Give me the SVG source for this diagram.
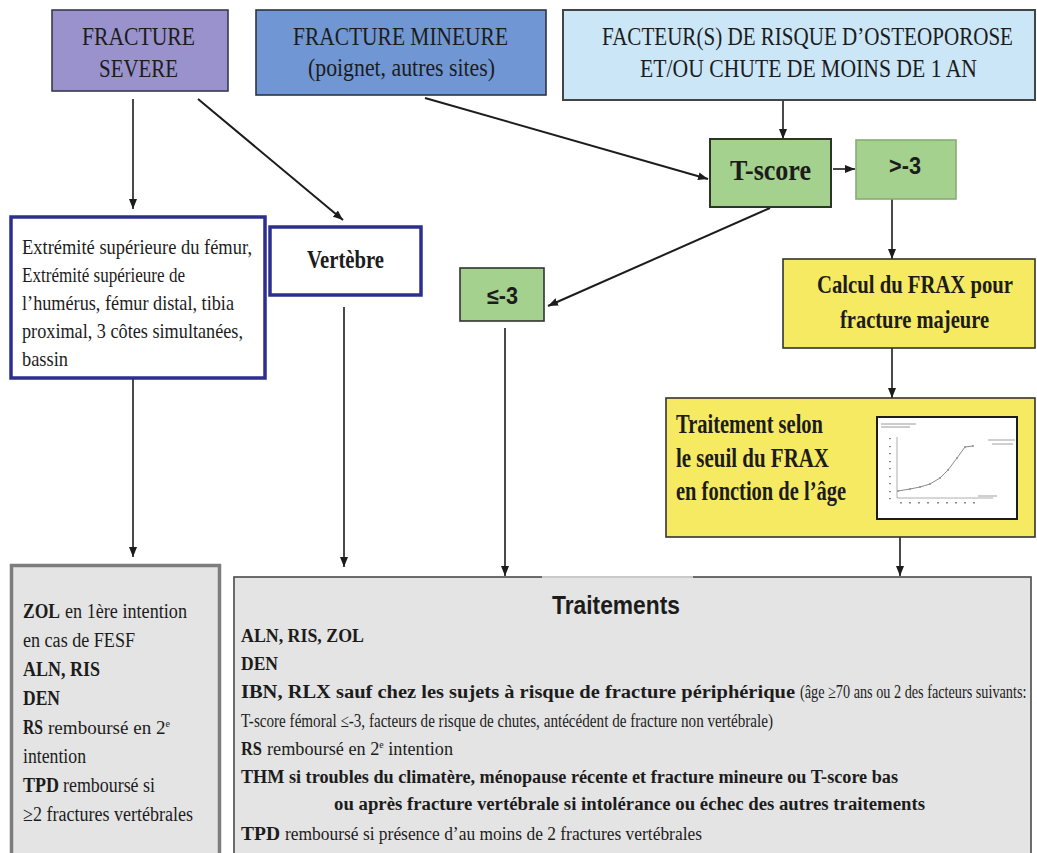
<svg xmlns="http://www.w3.org/2000/svg" width="1037" height="853" viewBox="0 0 1037 853">
<style>
.s{font-family:"Liberation Serif","Times New Roman",serif;fill:#1c1c1c}
.b{font-weight:bold}
.sans{font-family:"Liberation Sans",Arial,sans-serif;font-weight:bold;fill:#1c1c1c}
.ln{stroke:#1c1c1c;stroke-width:1.6;fill:none}
.dg{stroke:#1c1c1c;stroke-width:2;fill:none}
.bluebox{fill:#ffffff;stroke:#2c2f8e;stroke-width:3.5}
.green{fill:#a4d18d}
.yellow{fill:#f6ea62;stroke:#333;stroke-width:1.6}
.gray{fill:#e4e4e4}
</style>
<defs>
<marker id="ah" markerUnits="userSpaceOnUse" markerWidth="10" markerHeight="8" refX="10" refY="4" orient="auto">
<path d="M0,0 L10,4 L0,8 z" fill="#1c1c1c"/>
</marker>
</defs>
<rect width="1037" height="853" fill="#ffffff"/>

<g id="connectors">
<path class="ln" d="M133,99 L133,209" marker-end="url(#ah)"/>
<path class="dg" d="M198,99 L343,220" marker-end="url(#ah)"/>
<path class="dg" d="M425,98 L708,179" marker-end="url(#ah)"/>
<path class="ln" d="M783,100 L783,139" marker-end="url(#ah)"/>
<path class="ln" d="M833,169 L855,169" marker-end="url(#ah)"/>
<path class="dg" d="M770,208 L548,306" marker-end="url(#ah)"/>
<path class="ln" d="M892,199 L892,259" marker-end="url(#ah)"/>
<path class="ln" d="M892,348 L892,398" marker-end="url(#ah)"/>
<path class="ln" d="M900,537 L900,576" marker-end="url(#ah)"/>
<path class="ln" d="M133,379 L133,557" marker-end="url(#ah)"/>
<path class="ln" d="M344,307 L344,567" marker-end="url(#ah)"/>
<path class="ln" d="M505,328 L505,576" marker-end="url(#ah)"/>
</g>

<g id="fracture-severe">
<rect x="52" y="10" width="176" height="81" fill="#9a92cd" stroke="#3a3a4a" stroke-width="1.6"/>
<text class="s" x="82" y="45" font-size="25" textLength="113" lengthAdjust="spacingAndGlyphs">FRACTURE</text>
<text class="s" x="99" y="77" font-size="25" textLength="79" lengthAdjust="spacingAndGlyphs">SEVERE</text>
</g>

<g id="fracture-mineure">
<rect x="256" y="10" width="290" height="85" fill="#7096d4" stroke="#2e3440" stroke-width="1.6"/>
<text class="s" x="293" y="45" font-size="25" textLength="215" lengthAdjust="spacingAndGlyphs">FRACTURE MINEURE</text>
<text class="s" x="308" y="76" font-size="25" textLength="187" lengthAdjust="spacingAndGlyphs">(poignet, autres sites)</text>
</g>

<g id="facteurs">
<rect x="563" y="10" width="472" height="90" fill="#cbe6f7" stroke="#444" stroke-width="2"/>
<text class="s" font-size="25" transform="translate(602,45) scale(0.843,1)">FACTEUR(S) DE RISQUE D’OSTEOPOROSE</text>
<text class="s" x="640" y="77" font-size="25" textLength="337" lengthAdjust="spacingAndGlyphs">ET/OU CHUTE DE MOINS DE 1 AN</text>
</g>

<g id="tscore">
<rect class="green" x="710" y="139" width="121" height="68" stroke="#2b3628" stroke-width="2"/>
<text class="s b" x="730" y="180" font-size="30" textLength="81" lengthAdjust="spacingAndGlyphs">T-score</text>
</g>

<g id="sup-3">
<rect class="green" x="856" y="140" width="100" height="59" stroke="#86ad74" stroke-width="1.6"/>
<text class="sans" x="889" y="174" font-size="23" textLength="32" lengthAdjust="spacingAndGlyphs">&gt;-3</text>
</g>

<g id="extremite">
<rect class="bluebox" x="11" y="217" width="254" height="161"/>
<text class="s" x="22" y="254" font-size="21" textLength="230" lengthAdjust="spacingAndGlyphs">Extrémité supérieure du fémur,</text>
<text class="s" x="22" y="282" font-size="21" textLength="163" lengthAdjust="spacingAndGlyphs">Extrémité supérieure de</text>
<text class="s" x="22" y="310" font-size="21" textLength="212" lengthAdjust="spacingAndGlyphs">l’humérus, fémur distal, tibia</text>
<text class="s" x="22" y="338" font-size="21" textLength="221" lengthAdjust="spacingAndGlyphs">proximal, 3 côtes simultanées,</text>
<text class="s" x="22" y="366" font-size="21" textLength="46" lengthAdjust="spacingAndGlyphs">bassin</text>
</g>

<g id="vertebre">
<rect class="bluebox" x="270" y="227" width="151" height="68"/>
<text class="s b" x="307" y="268" font-size="26" textLength="77" lengthAdjust="spacingAndGlyphs">Vertèbre</text>
</g>

<g id="inf-3">
<rect class="green" x="460" y="268" width="84" height="53" stroke="#333" stroke-width="1.6"/>
<text class="sans" x="487" y="304" font-size="23" textLength="31" lengthAdjust="spacingAndGlyphs">≤-3</text>
</g>

<g id="calcul-frax">
<rect class="yellow" x="783" y="259" width="252" height="89"/>
<text class="s b" font-size="25" transform="translate(817,293) scale(0.828,1)">Calcul du FRAX pour</text>
<text class="s b" x="840" y="328" font-size="25" textLength="149" lengthAdjust="spacingAndGlyphs">fracture majeure</text>
</g>

<g id="traitement-frax">
<rect class="yellow" x="666" y="398" width="369" height="139" stroke-width="2"/>
<text class="s b" x="676" y="433" font-size="28" textLength="147" lengthAdjust="spacingAndGlyphs">Traitement selon</text>
<text class="s b" x="676" y="467" font-size="28" textLength="153" lengthAdjust="spacingAndGlyphs">le seuil  du FRAX</text>
<text class="s b" x="676" y="500" font-size="28" textLength="170" lengthAdjust="spacingAndGlyphs">en fonction de l’âge</text>
<g id="chart">
<rect x="877" y="417" width="140" height="102" fill="#ffffff" stroke="#1c1c1c" stroke-width="2"/>
<path d="M881,424 H916 M881,427 H910" stroke="#9a9a9a" stroke-width="1"/>
<path d="M897,437 V498 H993" stroke="#9a9a9a" stroke-width="0.8" fill="none"/>
<path d="M898,491 L910,489 L920,487 L930,484 L940,478 L948,470 L957,458 L965,447 L973,446" stroke="#8a8a8a" stroke-width="1" fill="none"/>
<g fill="#8a8a8a">
<circle cx="898" cy="491" r="0.9"/><circle cx="910" cy="489" r="0.9"/><circle cx="920" cy="487" r="0.9"/><circle cx="930" cy="484" r="0.9"/><circle cx="940" cy="478" r="0.9"/><circle cx="948" cy="470" r="0.9"/><circle cx="957" cy="458" r="0.9"/><circle cx="965" cy="447" r="0.9"/><circle cx="973" cy="446" r="0.9"/>
<rect x="900" y="502" width="2" height="1.5"/><rect x="909" y="502" width="2" height="1.5"/><rect x="918" y="502" width="2" height="1.5"/><rect x="927" y="502" width="2" height="1.5"/><rect x="937" y="502" width="2" height="1.5"/><rect x="946" y="502" width="2" height="1.5"/><rect x="955" y="502" width="2" height="1.5"/><rect x="964" y="502" width="2" height="1.5"/><rect x="973" y="502" width="2" height="1.5"/>
<rect x="889" y="438" width="2" height="1.2"/><rect x="889" y="446" width="2" height="1.2"/><rect x="889" y="453" width="2" height="1.2"/><rect x="889" y="461" width="2" height="1.2"/><rect x="889" y="468" width="2" height="1.2"/><rect x="889" y="476" width="2" height="1.2"/><rect x="889" y="483" width="2" height="1.2"/><rect x="889" y="491" width="2" height="1.2"/><rect x="889" y="498" width="2" height="1.2"/>
</g>
<path d="M988,440 H1015 M992,444 H1013 M978,496 H997" stroke="#a0a0a0" stroke-width="1"/>
</g>
</g>

<g id="traitement-severe">
<rect class="gray" x="11.5" y="565.5" width="208" height="300" stroke="#7d7d7d" stroke-width="3.5"/>
<text class="s b" x="23" y="618" font-size="20" textLength="37" lengthAdjust="spacingAndGlyphs">ZOL</text>
<text class="s" x="65" y="618" font-size="20" textLength="122" lengthAdjust="spacingAndGlyphs">en 1ère intention</text>
<text class="s" x="23" y="647" font-size="20" textLength="112" lengthAdjust="spacingAndGlyphs">en cas de FESF</text>
<text class="s b" x="23" y="676" font-size="20" textLength="77" lengthAdjust="spacingAndGlyphs">ALN, RIS</text>
<text class="s b" x="23" y="705" font-size="20" textLength="37" lengthAdjust="spacingAndGlyphs">DEN</text>
<text class="s b" x="23" y="734" font-size="20" textLength="20" lengthAdjust="spacingAndGlyphs">RS</text>
<text class="s" x="48" y="734" font-size="19" textLength="122" lengthAdjust="spacingAndGlyphs">remboursé en 2<tspan font-size="10" dy="-7">e</tspan></text>
<text class="s" x="23" y="763" font-size="20" textLength="63" lengthAdjust="spacingAndGlyphs">intention</text>
<text class="s b" x="23" y="792" font-size="20" textLength="36" lengthAdjust="spacingAndGlyphs">TPD</text>
<text class="s" x="63" y="792" font-size="20" textLength="92" lengthAdjust="spacingAndGlyphs">remboursé si</text>
<text class="s" x="23" y="821" font-size="20" textLength="170" lengthAdjust="spacingAndGlyphs">≥2 fractures vertébrales</text>
</g>

<g id="traitements">
<rect class="gray" x="234" y="577" width="797" height="290" stroke="#4a4a4a" stroke-width="1.6"/>
<path d="M542,577 H693" stroke="#c9c9c9" stroke-width="2"/>
<text class="sans" x="552" y="614" font-size="26" textLength="128" lengthAdjust="spacingAndGlyphs">Traitements</text>
<text class="s b" x="241" y="642" font-size="18.5" textLength="123" lengthAdjust="spacingAndGlyphs">ALN, RIS, ZOL</text>
<text class="s b" x="241" y="670" font-size="18.5" textLength="37" lengthAdjust="spacingAndGlyphs">DEN</text>
<text class="s b" x="241" y="698" font-size="18.5" textLength="554" lengthAdjust="spacingAndGlyphs">IBN, RLX sauf chez les sujets à risque de fracture périphérique</text>
<text class="s" font-size="18.5" transform="translate(800,698) scale(0.77,1)">(âge ≥70 ans ou 2 des facteurs suivants:</text>
<text class="s" x="241" y="727" font-size="18.5" textLength="532" lengthAdjust="spacingAndGlyphs">T-score fémoral ≤-3, facteurs de risque de chutes, antécédent de fracture non vertébrale)</text>
<text class="s b" x="241" y="755" font-size="18.5" textLength="21" lengthAdjust="spacingAndGlyphs">RS</text>
<text class="s" x="267" y="755" font-size="18.5" textLength="186" lengthAdjust="spacingAndGlyphs">remboursé en 2<tspan font-size="10" dy="-7">e</tspan><tspan dy="7"> intention</tspan></text>
<text class="s b" x="241" y="783" font-size="18.5" textLength="657" lengthAdjust="spacingAndGlyphs">THM si troubles du climatère, ménopause récente et fracture mineure ou T-score bas</text>
<text class="s b" x="334" y="810" font-size="18.5" textLength="591" lengthAdjust="spacingAndGlyphs">ou après fracture vertébrale si intolérance ou échec des autres traitements</text>
<text class="s b" x="241" y="840" font-size="18.5" textLength="39" lengthAdjust="spacingAndGlyphs">TPD</text>
<text class="s" x="285" y="840" font-size="18.5" textLength="417" lengthAdjust="spacingAndGlyphs">remboursé si présence d’au moins de 2 fractures vertébrales</text>
</g>
</svg>
